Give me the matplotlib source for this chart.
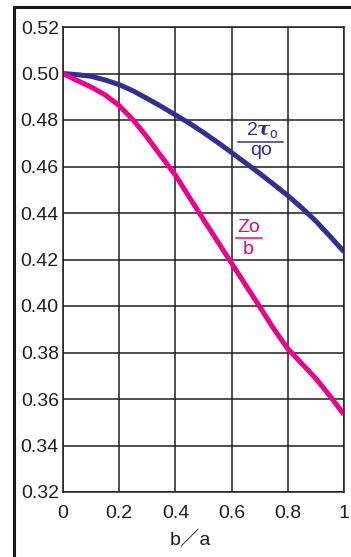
import matplotlib
matplotlib.use("Agg")
import matplotlib.pyplot as plt
from matplotlib.lines import Line2D

# ---- data ----
ratio_ba = [0.00, 0.05, 0.10, 0.15, 0.20, 0.25, 0.30, 0.35, 0.40, 0.45, 0.50,
            0.55, 0.60, 0.65, 0.70, 0.75, 0.80, 0.85, 0.90, 0.95, 1.00]
tau_q = [0.5000, 0.4995, 0.4988, 0.4972, 0.4952, 0.4925, 0.4892, 0.4858, 0.4822, 0.4786, 0.4746,
         0.4704, 0.4660, 0.4615, 0.4570, 0.4523, 0.4475, 0.4422, 0.4365, 0.4300, 0.4233]
zo_b = [0.5000, 0.4970, 0.4942, 0.4908, 0.4862, 0.4800, 0.4725, 0.4643, 0.4563, 0.4467, 0.4372,
        0.4278, 0.4184, 0.4090, 0.3997, 0.3902, 0.3816, 0.3752, 0.3688, 0.3613, 0.3533]
x_ticks = [0, 0.2, 0.4, 0.6, 0.8, 1]
x_tick_labels = ["0", "0.2", "0.4", "0.6", "0.8", "1"]
y_ticks = [0.32, 0.34, 0.36, 0.38, 0.40, 0.42, 0.44, 0.46, 0.48, 0.50, 0.52]
y_tick_labels = ["0.32", "0.34", "0.36", "0.38", "0.40", "0.42", "0.44", "0.46", "0.48", "0.50", "0.52"]
x_label = "b／a"
tau_num = r"$\mathrm{2}\tau_{\mathrm{o}}$"
tau_den = "qo"
zo_num = "Zo"
zo_den = "b"

BLUE = "#2e3192"
PINK = "#ec008c"
INK = "#1e1e1e"

plt.rcParams["font.family"] = ["Liberation Sans", "Noto Sans CJK JP", "DejaVu Sans"]
plt.rcParams["mathtext.fontset"] = "custom"
plt.rcParams["mathtext.rm"] = "Liberation Sans"
plt.rcParams["mathtext.it"] = "DejaVu Serif:italic:bold"
plt.rcParams["mathtext.bf"] = "Liberation Sans:bold"

fig = plt.figure(figsize=(3.51, 5.57), dpi=100)
ax = fig.add_axes([63 / 351, 1 - 492 / 557, (344 - 63) / 351, (492 - 27) / 557])

ax.set_xlim(0, 1)
ax.set_ylim(0.32, 0.52)
ax.set_xticks(x_ticks)
ax.set_xticklabels(x_tick_labels)
ax.set_yticks(y_ticks)
ax.set_yticklabels(y_tick_labels)
ax.tick_params(axis="both", length=0, labelsize=14, colors=INK)
ax.tick_params(axis="x", pad=9)
ax.tick_params(axis="y", pad=3)
ax.grid(True, color=INK, linewidth=1.1)
for s in ax.spines.values():
    s.set_color(INK)
    s.set_linewidth(1.1)
ax.set_axisbelow(True)

ax.plot(ratio_ba, tau_q, color=BLUE, linewidth=3.6, solid_capstyle="butt", solid_joinstyle="round")
ax.plot(ratio_ba, zo_b, color=PINK, linewidth=3.6, solid_capstyle="butt", solid_joinstyle="round")

# fraction labels
ax.text(0.7107, 0.4736, tau_num, color=BLUE, fontsize=14, ha="center", va="baseline")
ax.plot([0.623, 0.783], [0.4707, 0.4707], color=BLUE, linewidth=1.1)
ax.text(0.7064, 0.4649, tau_den, color=BLUE, fontsize=14, ha="center", va="baseline")

ax.text(0.6597, 0.4320, zo_num, color=PINK, fontsize=14, ha="center", va="baseline")
ax.plot([0.6157, 0.708], [0.4291, 0.4291], color=PINK, linewidth=1.1)
ax.text(0.658, 0.4224, zo_den, color=PINK, fontsize=14, ha="center", va="baseline")

ax.set_xlabel(x_label, fontsize=14, color=INK)
ax.xaxis.set_label_coords(0.455, -0.085)

# outer frame (top and left)
fig.add_artist(Line2D([14 / 351, 1.0], [1 - 7 / 557, 1 - 7 / 557], transform=fig.transFigure,
                      color="#1a1a1a", linewidth=2.2))
fig.add_artist(Line2D([14 / 351, 14 / 351], [0.0, 1 - 7 / 557], transform=fig.transFigure,
                      color="#1a1a1a", linewidth=2.2))

fig.savefig("out.png", dpi=100)
